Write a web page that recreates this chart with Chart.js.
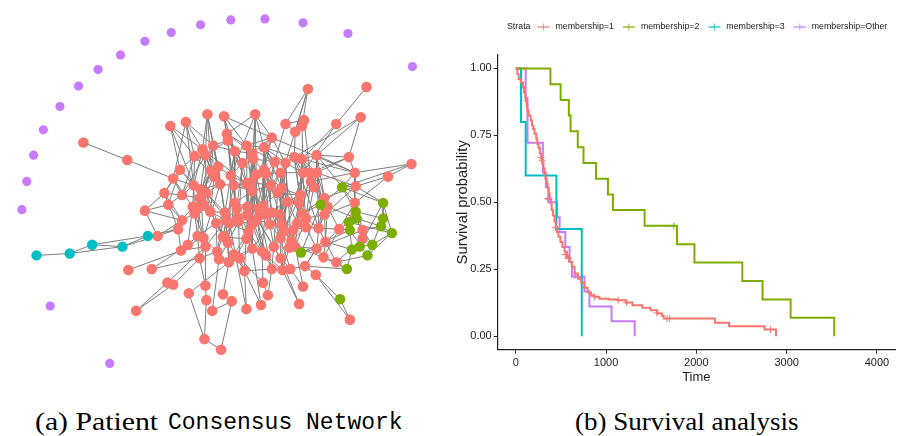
<!DOCTYPE html>
<html>
<head>
<meta charset="utf-8">
<script src="https://cdn.jsdelivr.net/npm/chart.js@4.4.1/dist/chart.umd.min.js"></script>
<style>
  body { margin: 0; background: #fff; width: 900px; height: 436px; position: relative; overflow: hidden; }
  #netCanvas { position: absolute; left: 0; top: 0; }
  #kmCanvas { position: absolute; left: 445px; top: 0; }
  .cap { position: absolute; color: #000; white-space: nowrap; transform-origin: 0 0; }
  .serif { font-family: "Liberation Serif", serif; font-size: 25px; line-height: 25px; top: 409px; }
  .mono { font-family: "Liberation Mono", monospace; font-size: 23px; line-height: 23px; top: 412px; }
</style>
</head>
<body>
<canvas id="netCanvas" width="445" height="395"></canvas>
<canvas id="kmCanvas" width="455" height="400"></canvas>
<div class="cap serif" style="left:35px; transform:scaleX(1.19)">(a) Patient</div>
<div class="cap mono" style="left:168px">Consensus Network</div>
<div class="cap serif" style="left:575px; transform:scaleX(1.08)">(b) Survival analysis</div>
<script>
// ---------- network layout (node positions in layout units) ----------
const redNodes = [
  [310,86],[370,84],[364,115],[339,122],[306,118],[304,124],[287,122],[297,130],[256,112],[224,114],
  [207,112],[185,120],[169,124],[80,141],[125,159],[273,136],[227,132],[228,139],[202,148],[213,144],
  [205,154],[194,155],[235,150],[247,144],[253,152],[254,158],[265,146],[243,162],[218,166],[179,169],
  [172,178],[211,170],[214,176],[231,175],[276,161],[287,162],[296,156],[304,158],[319,154],[352,156],
  [358,172],[416,163],[392,176],[359,186],[305,172],[319,172],[312,172],[313,181],[316,187],[282,172],
  [265,169],[267,173],[257,174],[220,184],[234,185],[247,183],[252,182],[272,185],[283,188],[279,193],
  [253,191],[193,185],[181,195],[163,193],[200,189],[206,193],[302,195],[327,198],[301,203],[289,202],
  [330,207],[358,203],[167,205],[143,211],[199,198],[192,207],[197,209],[210,212],[235,203],[237,209],
  [248,207],[259,209],[264,206],[248,216],[266,215],[273,213],[281,215],[225,213],[226,221],[239,222],
  [258,220],[181,221],[194,214],[216,224],[230,224],[253,225],[271,225],[283,225],[299,224],[304,214],
  [308,219],[308,228],[327,215],[321,229],[342,230],[366,231],[366,240],[177,230],[156,237],[187,246],
  [197,237],[203,239],[205,248],[223,238],[228,244],[247,240],[249,233],[286,232],[295,231],[282,239],
  [293,242],[297,248],[291,249],[275,248],[263,253],[267,257],[253,250],[328,243],[319,250],[326,259],
  [339,264],[180,252],[217,253],[219,261],[199,260],[229,264],[236,258],[240,260],[245,273],[273,271],
  [284,272],[292,271],[307,268],[282,260],[318,277],[150,271],[126,272],[166,285],[172,287],[205,288],
  [188,296],[223,297],[206,303],[232,304],[264,285],[269,298],[262,308],[247,312],[305,289],[301,307],
  [134,314],[212,314],[204,343],[221,354],[353,323],[203,205],[238,218],[224,237],[234,256],[358,218]
];
const greenNodes = [
  [345,187],[323,205],[387,203],[359,212],[360,219],[352,223],[387,219],[385,227],[353,231],[396,234],
  [376,246],[363,248],[355,251],[371,257],[303,254],[350,271],[343,302]
];
const cyanNodes = [[32,257],[66,255],[89,246],[120,248],[146,237]];
const purpleNodes = [
  [22,181],[29,154],[39,128],[56,104],[75,83],[95,66],[118,51],[143,37],[170,28],[200,20],
  [231,15],[266,14],[305,18],[351,29],[417,63],[17,210],[46,309],[107,368]
];
// edges: r/g/c + 1-based position in the node arrays above
const edges = `
r14-r15 r15-r31 r1-r7 r1-r6 r1-r8 r2-r4 r4-r38 r4-r45 r3-r39 r3-r37 r9-r26 r10-r16 r16-r41 r10-r17
r11-r19 r11-r20 r12-r19 r12-r22 r13-r22 r13-r30 r5-r6 r7-r8 r5-r7 r6-r45 r8-r37 r7-r35 r5-r48
r42-r43 r43-r44 r42-g1 r40-r46 r40-r47 r41-r38 r41-g1
c1-c2 c2-c3 c2-c4 c3-c4 c3-c5 c4-c5 c4-r109 c5-r109 c5-r108
r74-r73 r74-r92 r74-r109 r147-r132 r146-r110 r146-r135 r148-r113 r149-r135 r161-r148 r161-r149
r163-r153 r163-r164 r164-r154 r163-r151 r151-r136 r152-r136 r152-r154 r162-r134 r162-r154
r158-r137 r158-r139 r157-r139 r157-r127 r156-r140 r156-r155 r155-r138 r155-r125 r159-r142 r159-r122
r160-r141 r160-r144 r165-g17 g17-r145 r165-r145 r145-r143 r131-g16 r150-r135 r150-r113 r153-r150
g1-g2 g1-g4 g1-g3 g3-g7 g4-g5 g5-g6 g6-g9 g7-g8 g8-g10 g10-g11 g11-g12 g12-g13 g13-g9 g14-g11
g14-g10 g2-g15 g15-g9 g3-g10 g7-g11 g4-g7 g5-g8 g9-g14 g12-g3 g6-g10 g2-r68 g2-r46 g15-r122 g15-r129
g16-r130 g16-g13 g1-r44 g4-r72 g6-r105 g9-r105 g12-r107 g13-r128 g11-r106 g3-r44 g8-r106 g5-r71
g14-r131 g2-r100 g16-r143
r16-r24 r16-r27 r16-r36 r16-r51 r17-r18 r17-r23 r17-r9 r18-r20 r18-r28 r18-r34 r19-r21 r19-r32 r19-r62
r20-r29 r20-r23 r20-r54 r21-r22 r21-r33 r21-r65 r22-r30 r22-r63 r23-r25 r23-r55 r23-r79 r24-r27
r24-r53 r24-r35 r25-r26 r25-r57 r25-r81 r26-r52 r26-r61 r26-r82 r27-r35 r27-r50 r27-r37 r28-r34
r28-r56 r28-r80 r29-r32 r29-r66 r29-r88 r30-r31 r30-r62 r30-r73 r31-r63 r31-r64 r31-r76 r32-r33
r32-r54 r32-r75 r33-r65 r33-r78 r34-r55 r34-r95 r35-r36 r35-r58 r35-r83 r36-r37 r36-r59 r36-r70
r37-r38 r37-r45 r37-r67 r38-r39 r38-r47 r38-r69 r39-r46 r39-r68 r39-r40 r41-r44 r41-r48 r41-r72
r44-r68 r44-r103 r45-r47 r45-r50 r45-r99 r46-r48 r46-r71 r47-r49 r47-r100 r48-r49 r48-r101 r49-r67
r49-r102 r50-r52 r50-r59 r50-r98 r51-r53 r51-r57 r51-r85 r52-r58 r52-r86 r53-r56 r53-r61 r53-r91
r54-r66 r54-r89 r54-r55 r55-r56 r55-r79 r55-r90 r56-r57 r56-r81 r56-r96 r57-r61 r57-r82 r58-r59
r58-r60 r58-r97 r59-r60 r59-r87 r60-r70 r60-r83 r61-r84 r61-r116 r62-r63 r62-r76 r62-r65 r63-r64
r63-r73 r64-r73 r64-r108 r65-r66 r65-r77 r65-r111 r66-r78 r66-r166 r67-r69 r67-r70 r67-r118 r68-r71
r68-r104 r69-r100 r69-r119 r70-r87 r70-r120 r71-r103 r71-r128 r72-r105 r72-r106 r73-r92 r75-r76
r75-r93 r75-r166 r76-r77 r76-r110 r77-r93 r77-r112 r78-r88 r78-r94 r79-r80 r79-r88 r79-r167 r80-r81
r80-r90 r80-r117 r81-r82 r81-r84 r82-r83 r82-r91 r83-r85 r83-r86 r84-r91 r84-r96 r84-r117 r85-r86
r85-r97 r85-r125 r86-r87 r86-r97 r87-r98 r87-r118 r88-r89 r88-r94 r89-r95 r89-r168 r90-r95 r90-r167
r91-r96 r91-r124 r92-r93 r92-r108 r93-r111 r94-r114 r94-r133 r95-r115 r96-r127 r97-r124 r98-r120
r99-r102 r99-r119 r100-r101 r101-r104 r102-r104 r102-r121 r103-r104 r104-r129 r105-r128 r106-r107
r107-r131 r108-r109 r108-r132 r110-r111 r110-r132 r111-r112 r112-r113 r113-r135 r114-r115 r114-r133
r115-r136 r116-r117 r116-r127 r117-r169 r118-r119 r118-r121 r119-r122 r120-r123 r121-r123 r122-r129
r123-r144 r124-r126 r125-r126 r126-r140 r127-r137 r128-r130 r129-r130 r130-r131 r133-r134 r134-r136
r136-r138 r137-r138 r138-r139 r140-r141 r141-r142 r142-r143 r143-r129 r144-r124
r9-r53 r10-r24 r11-r29 r12-r31 r13-r62 r19-r56 r22-r54 r24-r61 r27-r99 r35-r102 r36-r121 r37-r104
r39-r72 r46-r103 r50-r116 r52-r96 r58-r118 r59-r101 r60-r124 r65-r94 r66-r95 r79-r115 r81-r114
r83-r117 r86-r98 r90-r134 r97-r127 r98-r141 r100-r68 r23-r88 r28-r90 r29-r33 r34-r80 r51-r83 r57-r91
r55-r61 r54-r112 r32-r77 r20-r75 r26-r36 r38-r49 r45-r69 r47-r103 r50-r70 r53-r85 r56-r83 r62-r93
r64-r92 r16-r25 r17-r28 r18-r55 r21-r63 r30-r65 r89-r113 r94-r111 r95-r137 r96-r125 r84-r127 r91-r126
r99-r123 r101-r122 r102-r129 r104-r128 r105-r130 r106-r129 r70-r98 r67-r100 r71-r104 r72-r103 r44-r46
r170-g5 r170-r106 r170-r72
r9-r34 r9-r27 r10-r23 r11-r21 r12-r20 r13-r19 r17-r24 r17-r25 r18-r21 r19-r29 r20-r32 r21-r66
r22-r62 r23-r28 r23-r34 r24-r26 r25-r28 r25-r53 r26-r57 r27-r51 r27-r36 r28-r53 r29-r54 r29-r34
r30-r64 r31-r62 r32-r65 r33-r54 r34-r56 r35-r50 r35-r52 r36-r50 r36-r45 r37-r47 r38-r46 r39-r41
r40-r41 r45-r67 r46-r49 r47-r48 r48-r68 r49-r69 r50-r58 r51-r58 r52-r59 r53-r57 r54-r65 r55-r57
r56-r61 r57-r58 r58-r61 r59-r67 r60-r67 r61-r79 r62-r66 r63-r75 r64-r74 r66-r88 r67-r99 r68-r103
r69-r101 r70-r85 r71-r105 r75-r77 r76-r92 r77-r78 r78-r89 r79-r81 r80-r89 r81-r83 r82-r85 r83-r87
r84-r90 r85-r87 r86-r118 r87-r119 r88-r95 r89-r94 r90-r96 r91-r97 r92-r109 r93-r112 r94-r115
r95-r117 r96-r116 r97-r120 r98-r121 r99-r118 r100-r102 r101-r103 r102-r119 r103-r128 r104-r105
r110-r112 r111-r113 r112-r133 r113-r132 r114-r116 r115-r138 r116-r137 r117-r125 r118-r120 r119-r121
r120-r124 r121-r122 r122-r130 r123-r141 r124-r140 r125-r127 r126-r141 r127-r138 r128-r131 r129-r143
r133-r135 r134-r137 r135-r111 r137-r139 r139-r140 r141-r144 r142-r144
r16-r61 r9-r57 r10-r55 r11-r32 r12-r62 r17-r56 r24-r84 r27-r86 r36-r98 r37-r100 r38-r102 r39-r104
r45-r118 r50-r120 r51-r97 r53-r96 r55-r114 r56-r117 r57-r125 r59-r123 r60-r121 r61-r127 r65-r112
r66-r114 r67-r122 r70-r124 r79-r116 r81-r126 r82-r140 r84-r139 r86-r142 r87-r144 r88-r133 r89-r136
r90-r138 r91-r144 r3-r40 r42-r41 r43-r72 r1-r36 r16-r9
`;

// ---------- survival curves (time, survival probability) ----------
const kmTime1 = [0,18,32,54,80,91,106,109,120,128,142,164,179,194,208,227,238,252,267,282,293,307,318,329,343,354,365,376,387,398,
  413,428,442,457,472,494,516,541,567,596,622,651,688,724,761,797,834,871,925,1035,1127,1218,1292,1401,1493,1566,1621,1639,2206,2363,2755,2882];
const kmSurv1 = [1,0.979,0.960,0.948,0.929,0.910,0.898,0.879,0.861,0.843,0.824,0.806,0.787,0.774,0.756,0.737,0.719,0.704,0.682,0.663,0.645,0.626,0.607,0.589,0.570,0.552,0.533,0.514,0.496,0.471,
  0.451,0.429,0.408,0.389,0.371,0.352,0.333,0.315,0.296,0.277,0.259,0.234,0.215,0.200,0.181,0.163,0.153,0.147,0.140,0.137,0.134,0.126,0.116,0.106,0.097,0.085,0.075,0.066,0.050,0.037,0.025,0];
const kmTime2 = [0,384,497,588,607,687,750,889,1021,1076,1427,1785,1979,2509,2733,3044,3527];
const kmSurv2 = [1,0.941,0.882,0.824,0.765,0.706,0.647,0.588,0.529,0.471,0.412,0.343,0.275,0.206,0.137,0.069,0];
const kmTime3 = [0,58,110,450,731];
const kmSurv3 = [1,0.8,0.6,0.4,0];
const kmTimeOther = [0,110,130,300,333,362,457,486,549,596,622,761,816,1061,1317];
const kmSurvOther = [1,0.889,0.722,0.611,0.556,0.5,0.444,0.389,0.333,0.278,0.222,0.167,0.111,0.056,0];
const censorTime1 = [282,292,354,369,442,547,584,659,760,871,1134,1229,1562,1675,1705,2821];
const censorSurv1 = [0.667,0.655,0.514,0.51,0.405,0.305,0.29,0.228,0.182,0.147,0.134,0.125,0.087,0.066,0.066,0.025];
const censorTime2 = [1752];
const censorSurv2 = [0.412];

const strata = ['membership=1','membership=2','membership=3','membership=Other'];
const strataColors = ['#F8766D','#7CAE00','#00BFC4','#C77CFF'];
const timeTicks = [0,1000,2000,3000,4000];
const survTicks = [0,0.25,0.5,0.75,1];

Chart.defaults.font.family = '"Liberation Sans", Arial, sans-serif';

// ---------- network chart ----------
function nodeById(id) {
  const arr = {r: redNodes, g: greenNodes, c: cyanNodes}[id[0]];
  return arr[parseInt(id.slice(1)) - 1];
}
const edgePoints = [];
edges.trim().split(/\s+/).forEach(e => {
  const [a, b] = e.split('-');
  const A = nodeById(a), B = nodeById(b);
  edgePoints.push({x: A[0], y: A[1]}, {x: B[0], y: B[1]}, {x: B[0], y: null});
});
const toPts = arr => arr.map(p => ({x: p[0], y: p[1]}));

new Chart(document.getElementById('netCanvas'), {
  type: 'scatter',
  data: {
    datasets: [
      { type: 'line', data: edgePoints, borderColor: '#7d7d7d', borderWidth: 1, pointRadius: 0, spanGaps: false, fill: false, order: 10 },
      { data: toPts(redNodes), backgroundColor: strataColors[0], borderWidth: 0, pointRadius: 5.3, order: 3 },
      { data: toPts(greenNodes), backgroundColor: strataColors[1], borderWidth: 0, pointRadius: 5.2, order: 2 },
      { data: toPts(cyanNodes), backgroundColor: strataColors[2], borderWidth: 0, pointRadius: 5.2, order: 1 },
      { data: toPts(purpleNodes), backgroundColor: strataColors[3], borderWidth: 0, pointRadius: 4.6, order: 0 }
    ]
  },
  options: {
    responsive: false,
    animation: false,
    devicePixelRatio: 1,
    layout: { padding: 0 },
    plugins: { legend: { display: false }, tooltip: { enabled: false } },
    events: [],
    scales: {
      x: { type: 'linear', min: 0, max: 445, display: false },
      y: { type: 'linear', min: 0, max: 395, reverse: true, display: false }
    }
  }
});

// ---------- survival chart ----------
const zip = (t, s) => t.map((v, i) => ({x: v, y: s[i]}));
const kmSeries = [zip(kmTime1, kmSurv1), zip(kmTime2, kmSurv2), zip(kmTime3, kmSurv3), zip(kmTimeOther, kmSurvOther)];

const kmDatasets = kmSeries.map((d, i) => ({
  type: 'line', label: strata[i], data: d, stepped: true,
  borderColor: strataColors[i], borderWidth: 2, pointRadius: 0, fill: false
}));
kmDatasets.push(
  { data: zip(censorTime1, censorSurv1), pointStyle: 'cross', pointRadius: 3.5, borderColor: strataColors[0], borderWidth: 1, backgroundColor: strataColors[0] },
  { data: zip(censorTime2, censorSurv2), pointStyle: 'cross', pointRadius: 3.5, borderColor: strataColors[1], borderWidth: 1, backgroundColor: strataColors[1] }
);

const strataLegend = {
  id: 'strataLegend',
  afterDraw(chart) {
    const ctx = chart.ctx;
    const y = 27;
    let x = 62;
    ctx.save();
    ctx.font = '8.8px "Liberation Sans", Arial, sans-serif';
    ctx.fillStyle = '#222';
    ctx.textBaseline = 'middle';
    ctx.fillText('Strata', x, y);
    x += ctx.measureText('Strata').width + 7;
    strata.forEach((name, i) => {
      ctx.strokeStyle = strataColors[i];
      ctx.globalAlpha = 0.75;
      ctx.lineWidth = 1.6;
      ctx.beginPath();
      ctx.moveTo(x, y); ctx.lineTo(x + 12, y);
      ctx.stroke();
      ctx.lineWidth = 1;
      ctx.beginPath();
      ctx.moveTo(x + 6, y - 3.5); ctx.lineTo(x + 6, y + 3.5);
      ctx.stroke();
      ctx.globalAlpha = 1;
      x += 18;
      ctx.fillText(name, x, y);
      x += ctx.measureText(name).width + 9;
    });
    ctx.restore();
  }
};

new Chart(document.getElementById('kmCanvas'), {
  type: 'scatter',
  data: { datasets: kmDatasets },
  options: {
    responsive: false,
    animation: false,
    devicePixelRatio: 1,
    events: [],
    layout: { padding: { left: 0, right: 2, top: 55, bottom: 15 } },
    plugins: { legend: { display: false }, tooltip: { enabled: false } },
    scales: {
      x: {
        type: 'linear', min: -200, max: 4200,
        afterBuildTicks: s => { s.ticks = timeTicks.map(v => ({value: v})); },
        afterFit: s => { s.height = 35.4; },
        ticks: { color: '#222', font: { size: 11 }, padding: 3, maxRotation: 0, callback: v => String(v) },
        grid: { drawOnChartArea: false, tickLength: 4, color: '#222' },
        border: { color: '#222', width: 1.2 },
        title: { display: true, text: 'Time', color: '#222', font: { size: 13 }, padding: { top: 0, bottom: 0 } }
      },
      y: {
        type: 'linear', min: -0.05, max: 1.05,
        afterBuildTicks: s => { s.ticks = survTicks.map(v => ({value: v})); },
        afterFit: s => { s.width = 52.7; },
        ticks: { color: '#222', font: { size: 11 }, padding: 2, callback: v => v.toFixed(2) },
        grid: { drawOnChartArea: false, tickLength: 4, color: '#222' },
        border: { color: '#222', width: 1.2 },
        title: { display: true, text: 'Survival probability', color: '#222', font: { size: 14.8 }, padding: { top: 9, bottom: 0 } }
      }
    }
  },
  plugins: [strataLegend]
});
</script>
</body>
</html>
